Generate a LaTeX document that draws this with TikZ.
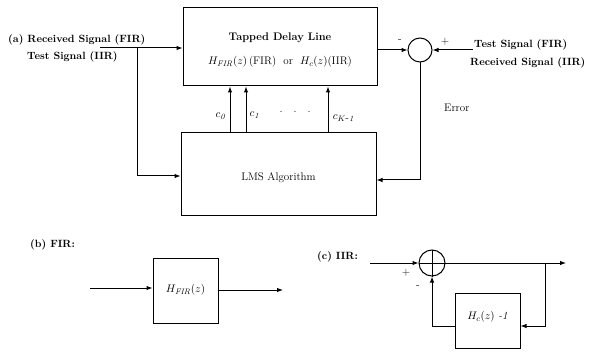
\documentclass[tikz,border=0pt]{standalone}
\usetikzlibrary{arrows.meta}
\begin{document}
\begin{tikzpicture}[x=1pt,y=-1pt,
  blk/.style={draw,line width=1pt,inner sep=0pt},
  sig/.style={line width=1pt},
  arr/.style={sig,-{Latex[length=6pt,width=4.5pt]}},
  lbl/.style={font=\fontsize{10.5}{12}\selectfont\bfseries,inner sep=0pt},
  lbn/.style={font=\fontsize{11}{13}\selectfont,inner sep=0pt},
  sm/.style={font=\fontsize{11}{12}\selectfont,inner sep=0pt}]
\useasboundingbox (0,0) rectangle (591,358);
% (a)
\node[blk,minimum width=194pt,minimum height=78pt] (tdl) at (280,47) {};
\node[lbn] (tdlt) at (280,38) {\bfseries Tapped Delay Line};
\node[lbn] (tdlh) at (280,62) {$H_{\mathit{FIR}}(z)$\,(FIR) \ or \ $H_c(z)$(IIR)};
\node[blk,minimum width=195pt,minimum height=82pt] (lms) at (278.5,174) {};
\node[lbn] (lmst) at (278.5,178) {LMS Algorithm};
\node[draw,circle,line width=1pt,minimum size=24pt,inner sep=0pt] (sum) at (420,50) {};
\node[lbl,anchor=west] (la1) at (8,40) {(a) Received Signal (FIR)};
\node[lbl,anchor=west] (la2) at (27,57) {Test Signal (IIR)};
\node[lbl,anchor=west] (ra1) at (474,45) {Test Signal (FIR)};
\node[lbl,anchor=west] (ra2) at (470,63) {Received Signal (IIR)};
\coordinate (in) at (100,48);
\coordinate (br) at (137,48);
\coordinate (rin) at (473,50);
\draw[arr] (in) -- (in -| tdl.west);
\draw[arr] (br) |- (lms.west |- 0,176);
\draw[arr] (tdl.east |- sum) -- (sum.west);
\draw[arr] (rin) -- (sum.east);
\node[sm] (minus) at (400,41) {-};
\node[sm] (plus) at (445,42) {+};
\draw[arr] (sum.south) |- (lms.east |- 0,180);
\node[lbn,anchor=west] (err) at (444,108) {Error};
\foreach \x/\n in {230/a,246/b,328/c}{
  \draw[arr] (lms.north -| \x,0) -- (tdl.south -| \x,0);
}
\node[sm] (c0) at (221,116) {$c_{\mathit 0}$};
\node[sm] (c1) at (255,115) {$c_{\mathit 1}$};
\node[sm] (ck) at (344,118) {$c_{K\mbox{-}\mathit 1}$};
\node[sm] (dots) at (295,112) {.\hspace{11pt}.\hspace{11pt}.};
% (b)
\node[lbl,anchor=west] (lb) at (30,245) {(b) FIR:};
\node[blk,minimum width=65pt,minimum height=65pt] (hfir) at (185.5,290.5) {};
\node[lbn] (hfirt) at (185.5,290) {$H_{\mathit{FIR}}(z)$};
\coordinate (bin) at (90,288);
\coordinate (bout) at (283,290);
\draw[arr] (bin) -- (hfir.west |- bin);
\draw[arr] (hfir.east |- bout) -- (bout);
% (c)
\node[lbl,anchor=west] (lc) at (317,257) {(c) IIR:};
\node[draw,circle,line width=1pt,minimum size=26pt,inner sep=0pt] (add) at (432,263) {};
\draw[line width=1pt] (add.north) -- (add.south) (add.west) -- (add.east);
\node[blk,minimum width=65pt,minimum height=55pt] (hc) at (487.5,320.5) {};
\node[lbn] (hct) at (487.5,317) {$H_c(z)$ \textit{-1}};
\coordinate (cin) at (370,263);
\coordinate (cout) at (566,263);
\coordinate (cbr) at (545,263);
\draw[arr] (cin) -- (add.west);
\draw[arr] (add.east) -- (cout);
\draw[arr] (cbr) |- (hc.east |- 0,326);
\draw[arr] (hc.west |- 0,326) -| (add.south);
\node[sm] (cp) at (406,273) {+};
\node[sm] (cm) at (418,287) {-};
\end{tikzpicture}
\end{document}
